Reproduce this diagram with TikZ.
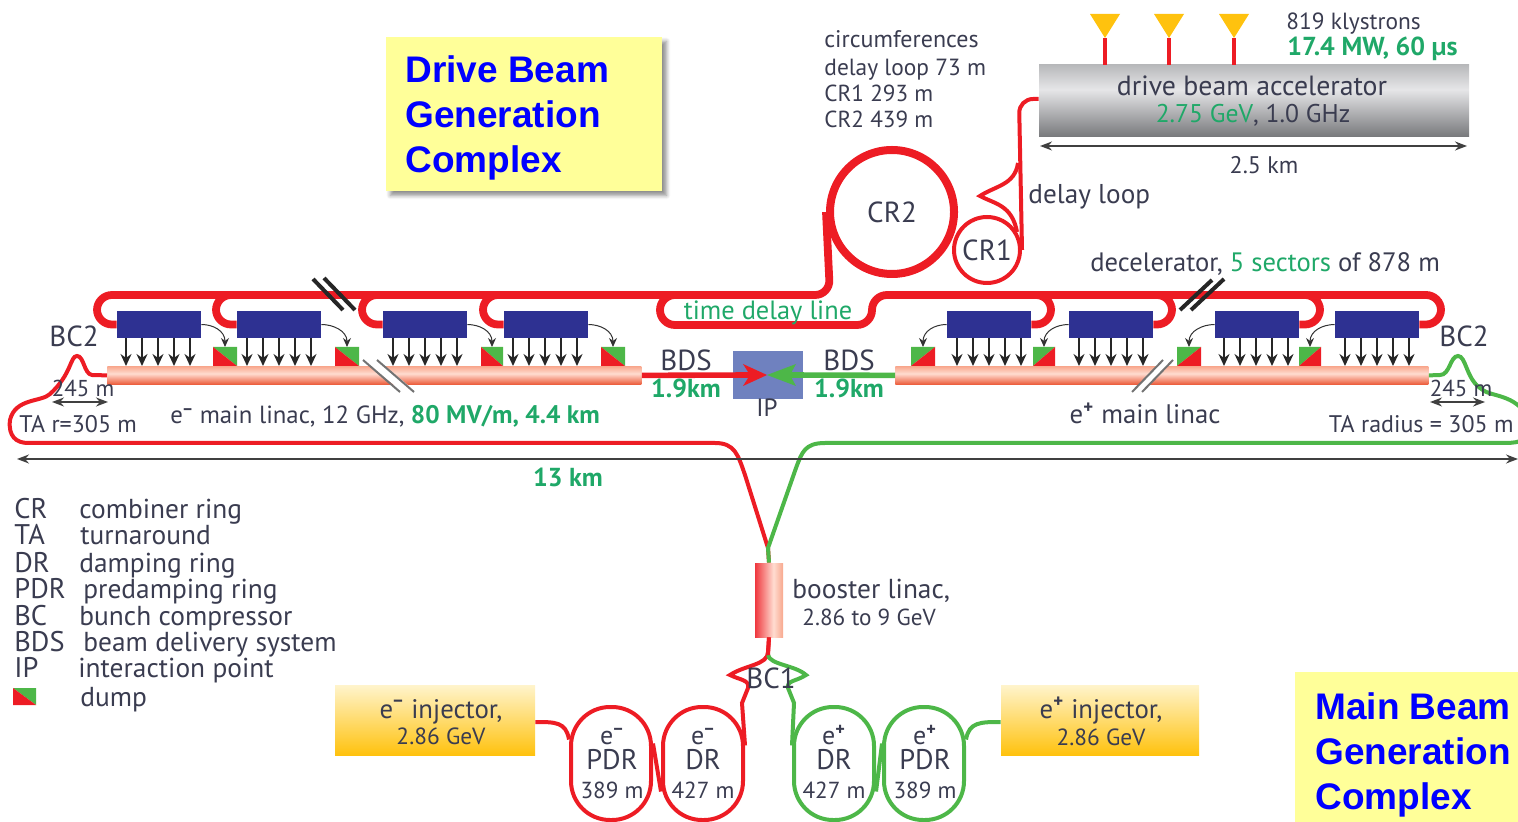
\documentclass[tikz,border=0pt]{standalone}
\usepackage{fontspec}
\setmainfont{PT Sans}
\newfontfamily\bigfont{Liberation Sans}
\usetikzlibrary{shadows.blur,calc,arrows.meta}
\definecolor{rd}{HTML}{ED1C24}
\definecolor{gn}{HTML}{4DB748}
\definecolor{txt}{HTML}{3A3C50}
\definecolor{tg}{HTML}{1FA868}
\definecolor{navy}{HTML}{2E3192}
\definecolor{ipb}{HTML}{6F81BF}
\definecolor{gold}{HTML}{FFC20E}
\definecolor{pale}{HTML}{FFFF99}
\definecolor{rdl}{HTML}{F8A88E}
\definecolor{rdm}{HTML}{FFDCD0}
\definecolor{rdb}{HTML}{EC5B3A}
\definecolor{injt}{HTML}{FFF4CC}
\definecolor{gt}{HTML}{B8B9BB}
\definecolor{gm}{HTML}{E6E6E8}
\definecolor{gb}{HTML}{77787B}
\pgfdeclareverticalshading{linacshade}{100bp}{color(0bp)=(rdb);color(25bp)=(rdb);color(55bp)=(rdm);color(75bp)=(rdl);color(100bp)=(rdl)}
\pgfdeclareverticalshading{accshade}{100bp}{color(0bp)=(gb);color(25bp)=(gb);color(58bp)=(gm);color(75bp)=(gt);color(100bp)=(gt)}
\pgfdeclarehorizontalshading{boostshade}{100bp}{color(0bp)=(rd);color(25bp)=(rd!88!white);color(58bp)=(rdm);color(75bp)=(rdl);color(100bp)=(rdl)}
\newcommand{\G}[1]{\textcolor{tg}{#1}}
\newcommand{\elec}{e\textsuperscript{\textbf{−}}}
\newcommand{\posi}{e\textsuperscript{\textbf{+}}}
\newcommand{\fz}[1]{\fontsize{#1}{#1}\selectfont}
\tikzset{
  lab/.style={inner sep=0pt,text=txt,text height=11.5pt,text depth=2.5pt,font=\fz{12}},
  labl/.style={lab,anchor=west},
  grn/.style={text=tg,font=\fz{13}\bfseries},
  sz/.style={font=\fz{#1}},
  bus/.style={draw=rd,line width=3.9pt,rounded corners=7.5pt},
  feed/.style={draw=rd,line width=2pt},
  gfeed/.style={draw=gn,line width=2pt},
  klyb/.style={fill=navy,inner sep=0pt,minimum width=42pt,minimum height=13.5pt},
  downar/.style={draw=black!85,line width=.8pt,-{Stealth[length=6pt,width=5.5pt]}},
  dumpar/.style={draw=black!80,line width=.5pt,-{Stealth[length=4.5pt,width=4pt]}},
  dimar/.style={draw=black!75,line width=.8pt,{Stealth[length=6pt,width=4.5pt]}-{Stealth[length=6pt,width=4.5pt]}},
  notebox/.style={fill=pale,inner sep=0pt,anchor=north west},
  bigtext/.style={inner sep=0pt,anchor=west,text=blue,text height=17pt,text depth=3.5pt,font=\bigfont\bfseries\fontsize{18.5}{20}\selectfont},
  linac/.style={inner sep=0pt,minimum height=9pt,shading=linacshade},
  ringbox/.style={draw,line width=2pt,rounded corners=19.5pt,minimum width=40pt,minimum height=56.5pt,inner sep=0pt,align=center,text=txt,font=\fontsize{12}{13.5}\selectfont},
  injbox/.style={inner sep=0pt,minimum height=35pt,top color=injt,bottom color=gold},
}
\begin{document}
\begin{tikzpicture}[x=.5pt,y=-.5pt]
\useasboundingbox (0,0) rectangle (1518,822);
\clip (0,0) rectangle (1518,822);
% note boxes
\node[notebox,minimum width=138pt,minimum height=77pt,blur shadow={shadow xshift=2pt,shadow yshift=-2pt,shadow blur radius=2pt,shadow blur steps=6,shadow opacity=45}] (noteA) at (386,37) {};
\node[bigtext] (tA1) at (405,69) {Drive Beam};
\node[bigtext] (tA2) at (405,114) {Generation};
\node[bigtext] (tA3) at (405,159) {Complex};
\node[notebox,minimum width=111.5pt,minimum height=75pt] (noteB) at (1295,672) {};
\node[bigtext] (tB1) at (1315,706) {Main Beam};
\node[bigtext] (tB2) at (1315,751) {Generation};
\node[bigtext] (tB3) at (1315,796) {Complex};
% drive beam accelerator
\node[inner sep=0pt,minimum width=215pt,minimum height=36pt,shading=accshade] (acc) at (1254,101) {};
\node[lab,sz=13.9] (acc1) at (1252,87) {drive beam accelerator};
\node[lab,sz=12.8] (acc2) at (1253,114) {\G{2.75 GeV}, 1.0 GHz};
\foreach \n/\x in {1/1105,2/1169,3/1234}{
  \coordinate (k\n) at (\x,38);
  \draw[draw=rd,line width=2pt] (k\n) -- (k\n |- acc.north);
  \fill[gold] (\x-15,14) -- (\x+15,14) -- (k\n) -- cycle;
}
\coordinate (accL) at (1040,146); \coordinate (accR) at (1467,146);
\draw[dimar] (accL) -- (accR);
\node[lab] (l25) at (1264,165) {2.5 km};
\node[labl,sz=11.7] (l819) at (1286,21) {819 klystrons};
\node[labl,text=tg,font=\fz{13}\bfseries] (l174) at (1287,47) {17.4 MW, 60 µs};
\node[labl] (c0) at (824,39) {circumferences};
\node[labl,sz=11.7] (c1) at (824,67) {delay loop 73 m};
\node[labl,sz=11.6] (c2) at (824,93) {CR1 293 m};
\node[labl,sz=11.6] (c3) at (824,119) {CR2 439 m};
% rings
\node[circle,draw=rd,line width=4pt,minimum size=62pt,inner sep=0pt,text=txt,font=\fz{14.5}] (cr2) at (892,212) {CR2};
\node[circle,draw=rd,line width=2pt,minimum size=33pt,inner sep=0pt,text=txt,font=\fz{14.5}] (cr1) at (987,250) {CR1};
\draw[feed,rounded corners=7pt] ([yshift=1pt]acc.west) -- (1019,99) -- (cr1.east);
\draw[feed] (1018,163) .. controls (1015,185) and (995,186) .. (980,196) .. controls (995,204) and (1012,205) .. (1017,232);
\node[labl,sz=13.6] (dl) at (1028,195) {delay loop};
\node[labl,sz=13.3] (dec) at (1090,263) {decelerator, \G{5 sectors} of 878 m};
% klystron boxes
\foreach \n/\x in {1/159,2/279,3/425,4/546,5/989,6/1111,7/1257,8/1377}{
  \node[klyb] (b\n) at (\x,324.5) {};
}
% bus lines
\draw[bus] (b1.west) -- (97,324.5) -- (97,295) -- (830,295) -- (cr2.west);
\draw[bus] (b2.west) -- (216,324.5) -- (216,295) -- (240,295);
\draw[bus] (b3.west) -- (362,324.5) -- (362,295) -- (385,295);
\draw[bus] (b4.west) -- (483,324.5) -- (483,295) -- (505,295);
\draw[bus] (680,295) -- (660,295) -- (660,325) -- (872,325) -- (872,295) -- (1441,295) -- (1441,324.5) -- (b8.east);
\draw[bus] (b5.east) -- (1051,324.5) -- (1051,295) -- (1030,295);
\draw[bus] (b6.east) -- (1172,324.5) -- (1172,295) -- (1150,295);
\draw[bus] (b7.east) -- (1320,324.5) -- (1320,295) -- (1300,295);
% black breaks on bus
\draw[black!85,line width=2pt] (313,279) -- (343,310) (324,278) -- (355,310);
\draw[black!85,line width=2pt] (1180,310) -- (1212,280) (1191,310) -- (1224,279);
% linacs
\node[linac,minimum width=267pt,anchor=north west] (linL) at (107,366) {};
\node[linac,minimum width=266.5pt,anchor=north west] (linR) at (895,366) {};
% linac breaks
\fill[white] (363,360) -- (377,360) -- (414,390) -- (400,390) -- cycle;
\draw[black!55,line width=1pt] (363,360) -- (400,392) (377,360) -- (414,392);
\fill[white] (1132,392) -- (1142,392) -- (1173,360) -- (1163,360) -- cycle;
\draw[black!55,line width=1pt] (1132,392) -- (1163,360) (1142,392) -- (1173,360);
% arrows from klystron boxes down to the linac
\foreach \n/\off in {1/-33,2/-32,3/-32,4/-33,5/-32,6/-32,7/-33,8/-32}{
  \foreach \i in {0,1,2,3,4}{
    \coordinate (tk) at ($(b\n.south)+(\off*.5pt+\i*8pt,0)$);
    \draw[downar] (tk) -- (tk |- linL.north);
  }
}
% dumps
\foreach \n/\x/\w in {1/213/24,2/335/24,3/481/22,4/601/24}{
  \coordinate (d\n) at (\x+\w/2,347);
  \fill[gn] (\x,347) -- (\x+\w,347) -- (\x+\w,366) -- cycle;
  \fill[rd] (\x,347) -- (\x,366) -- (\x+\w,366) -- cycle;
}
\foreach \n/\x/\w in {5/911/24,6/1033/22,7/1177/24,8/1299/22}{
  \coordinate (d\n) at (\x+\w/2,347);
  \fill[gn] (\x,347) -- (\x+\w,347) -- (\x,366) -- cycle;
  \fill[rd] (\x+\w,347) -- (\x+\w,366) -- (\x,366) -- cycle;
}
\foreach \n in {1,2,3,4}{
  \draw[dumpar] (b\n.east) .. controls +(12,0) and +(0,-16) .. (d\n);
}
\foreach \n in {5,6,7,8}{
  \draw[dumpar] (b\n.west) .. controls +(-12,0) and +(0,-16) .. (d\n);
}
% IP and BDS
\node[fill=ipb,inner sep=0pt,minimum width=35pt,minimum height=24pt] (ip) at (768,375) {};
\coordinate (tipm) at (767,375);
\draw[draw=rd,line width=2.8pt] (linL.east) -- (750,375);
\draw[draw=gn,line width=2.8pt] (linR.west) -- (790,375);
\fill[rd] (tipm) -- (743,364) -- (750,375) -- (743,386) -- cycle;
\fill[gn] (tipm) -- (796,364) -- (790,375) -- (796,386) -- cycle;
\node[lab,sz=14.5] (bdsL) at (686,362) {BDS};
\node[lab,grn] (kmL) at (686,389) {1.9km};
\node[lab,sz=14.5] (bdsR) at (849,362) {BDS};
\node[lab,grn] (kmR) at (849,389) {1.9km};
\node[lab,sz=12.5] (lip) at (767,408) {IP};
% time delay
\node[lab,text=tg,sz=13.2] (tdl) at (768,311) {time delay line};
% booster
\node[inner sep=0pt,minimum width=14pt,minimum height=37pt,shading=boostshade] (boost) at (769,600) {};
% long lines
\draw[feed] (linL.west) -- (92,375) .. controls (84,374) and (84,356) .. (77,356) .. controls (70,356) and (72,374) .. (50,394) .. controls (42,402) and (15,398) .. (10,420) .. controls (8,436) and (16,443) .. (28,443) -- (715,443) .. controls (735,443) and (738,455) .. (745,475) -- (768,548) -- (boost.north);
\draw[gfeed] (linR.east) -- (1440,375) .. controls (1450,375) and (1450,356) .. (1458,356) .. controls (1466,356) and (1466,378) .. (1480,388) .. controls (1490,398) and (1515,392) .. (1530,420) .. controls (1534,440) and (1520,443) .. (1505,443) -- (825,443) .. controls (805,443) and (802,452) .. (796,468) -- (768,548) -- (boost.north);
\coordinate (longL) at (17,459); \coordinate (longR) at (1518,459);
\draw[dimar] (longL) -- (longR);
\node[lab,grn] (l13) at (568,478) {13 km};
% BC2 labels
\node[lab,sz=14.5] (bc2L) at (74,338) {BC2};
\node[lab,sz=14.5] (bc2R) at (1464,338) {BC2};
\node[lab,sz=11.5] (m245L) at (83,388) {245 m};
\node[lab,sz=11.5] (m245R) at (1461,388) {245 m};
\coordinate (aL1) at (52,402); \coordinate (aL2) at (108,402);
\coordinate (aR1) at (1430,402); \coordinate (aR2) at (1485,402);
\draw[dimar] (aL1) -- (aL2);
\draw[dimar] (aR1) -- (aR2);
\node[labl] (taL) at (19,424) {TA r=305 m};
\node[labl,sz=12.4] (mlL) at (170,415) {\elec\ main linac, 12 GHz, \G{\textbf{\fz{12.7}80 MV/m, 4.4 km}}};
\node[lab,sz=13.4] (mlR) at (1145,415) {\posi\ main linac};
\node[lab,anchor=east] (taR) at (1514,424) {TA radius = 305 m};
% legend
\foreach \n/\a/\y/\d/\xd in {a/CR/509/combiner ring/79,b/TA/536/turnaround/80,c/DR/563/damping ring/79,d/PDR/589/predamping ring/83,e/BC/616/bunch compressor/79,f/BDS/642/beam delivery system/83,g/IP/668/interaction point/78}{
  \node[labl,sz=14.2] (lg\n) at (14,\y) {\a};
  \node[labl,sz=13.7] (ld\n) at (\xd,\y) {\d};
}
\fill[gn] (13,688) -- (36,688) -- (36,705) -- cycle;
\fill[rd] (13,688) -- (13,705) -- (36,705) -- cycle;
\node[labl,sz=13.7] (ldump) at (80,697) {dump};
% booster labels
\node[labl,sz=13.7] (bl1) at (792,589) {booster linac,};
\node[labl,sz=11.6] (bl2) at (802,616) {2.86 to 9 GeV};
% damping rings
\node[ringbox,draw=rd] (pdrm) at (611,763.5) {};
\node[ringbox,draw=rd] (drm) at (703,763.5) {};
\node[ringbox,draw=gn] (drp) at (834,763.5) {};
\node[ringbox,draw=gn] (pdrp) at (924,763.5) {};
\foreach \n/\x/\a/\b/\c in {a/612/\elec/PDR/389 m,b/703/\elec/DR/427 m,c/834/\posi/DR/427 m,d/925/\posi/PDR/389 m}{
  \node[lab,sz=13] (ra\n) at (\x,735) {\a};
  \node[lab,sz=14.2] (rb\n) at (\x,760) {\b};
  \node[lab,sz=11.6] (rc\n) at (\x,789) {\c};
}
\node[injbox,minimum width=100pt] (injm) at (435,720) {};
\node[injbox,minimum width=99pt] (injp) at (1100,720) {};
\node[lab,sz=13.4] (im1) at (441,709) {\elec\ injector,};
\node[lab,sz=11.7] (im2) at (441,735) {2.86 GeV};
\node[lab,sz=13.4] (ip1) at (1101,709) {\posi\ injector,};
\node[lab,sz=11.7] (ip2) at (1101,736) {2.86 GeV};
% ring connectors
\draw[feed] ([yshift=-1pt]injm.east) .. controls +(20,0) and (566,722) .. ([yshift=12pt]pdrm.west);
\draw[gfeed] ([yshift=-1pt]injp.west) .. controls +(-20,0) and (969,722) .. ([yshift=12pt]pdrp.east);
\draw[feed] ([yshift=10pt]pdrm.east) -- ([yshift=-14pt]drm.west);
\draw[gfeed] ([yshift=10pt]pdrp.west) -- ([yshift=-14pt]drp.east);
\coordinate (bcm) at (730,675); \coordinate (bcp) at (806,675);
\draw[feed] (boost.south) -- (768,652) .. controls (768,665) and (745,665) .. (bcm) .. controls (740,680) and (750,680) .. (748,688) -- (742,703) -- ([yshift=9pt]drm.east);
\draw[gfeed] (768,655) .. controls (770,665) and (795,665) .. (bcp) .. controls (795,682) and (787,680) .. (788,688) -- (794,703) -- ([yshift=9pt]drp.west);
\draw[draw=rd,line width=2pt] (boost.south) -- (768,655);
\node[lab,sz=14.5] (bc1) at (771,679) {BC1};
\end{tikzpicture}
\end{document}
